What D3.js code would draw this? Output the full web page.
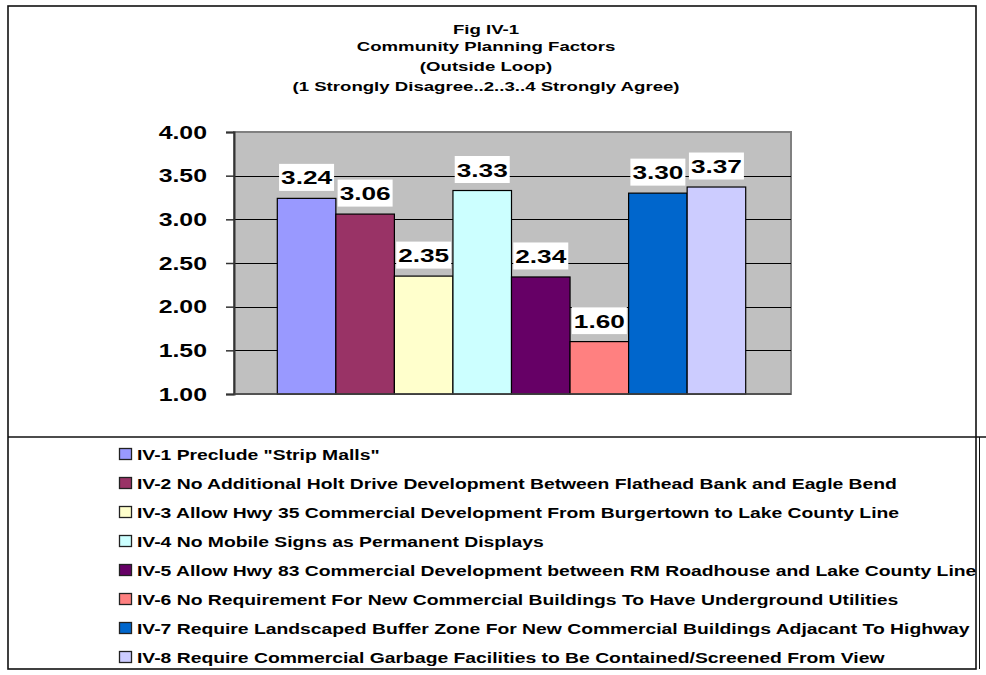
<!DOCTYPE html>
<html>
<head>
<meta charset="utf-8">
<script src="https://cdn.jsdelivr.net/npm/d3@7"></script>
<style>
  html, body { margin: 0; padding: 0; background: #fff; }
  svg { display: block; }
  text { font-family: "Liberation Sans", Arial, sans-serif; font-weight: bold; fill: #000; }
</style>
</head>
<body>
<svg id="chart" width="986" height="675"></svg>
<script>
// ---- data ----
const titleLines = ["Fig IV-1", "Community Planning Factors", "(Outside Loop)", "(1 Strongly Disagree..2..3..4 Strongly Agree)"];
const categories = [
  "IV-1 Preclude \"Strip Malls\"",
  "IV-2 No Additional Holt Drive Development Between Flathead Bank and Eagle Bend",
  "IV-3 Allow Hwy 35 Commercial Development From Burgertown to Lake County Line",
  "IV-4 No Mobile Signs as Permanent Displays",
  "IV-5 Allow Hwy 83 Commercial Development between RM Roadhouse and Lake County Line",
  "IV-6 No Requirement For New Commercial Buildings To Have Underground Utilities",
  "IV-7 Require Landscaped Buffer Zone For New Commercial Buildings Adjacant To Highway",
  "IV-8 Require Commercial Garbage Facilities to Be Contained/Screened From View"
];
const values = [3.24, 3.06, 2.35, 3.33, 2.34, 1.60, 3.30, 3.37];
const yTicks = [1.0, 1.5, 2.0, 2.5, 3.0, 3.5, 4.0];
const colors = ["#9999FF", "#993366", "#FFFFCC", "#CCFFFF", "#660066", "#FF8080", "#0066CC", "#CCCCFF"];

// ---- layout ----
const SX = 1.38; // horizontal stretch of the reference's text
const plot = { left: 234, right: 791, top: 132, bottom: 394 };
const svg = d3.select("#chart");

function stretchedText(parent, x, y, str, size, anchor) {
  const g = parent.append("g").attr("transform", `translate(${x},${y}) scale(${SX},1)`);
  const t = g.append("text").attr("x", 0).attr("y", 0)
    .attr("font-size", size).attr("text-anchor", anchor || "start").text(str);
  return { g, t };
}

// frames
svg.append("rect").attr("x", 8).attr("y", 6).attr("width", 968).attr("height", 663)
  .attr("fill", "none").attr("stroke", "#111").attr("stroke-width", 1.6);
svg.append("line").attr("x1", 8).attr("x2", 986).attr("y1", 437).attr("y2", 437)
  .attr("stroke", "#111").attr("stroke-width", 1.4);
svg.append("line").attr("x1", 979.5).attr("x2", 979.5).attr("y1", 437).attr("y2", 669)
  .attr("stroke", "#111").attr("stroke-width", 1);

// title
const titleY = [34, 51, 71, 91];
titleLines.forEach((s, i) => stretchedText(svg, 486, titleY[i], s, 13.5, "middle"));

// scales
const x = d3.scaleBand().domain(categories).range([plot.left + 43.3, plot.right - 45.3]).padding(0);
const y = d3.scaleLinear().domain([1, 4]).range([plot.bottom, plot.top]);

// plot background
svg.append("rect").attr("x", plot.left).attr("y", plot.top)
  .attr("width", plot.right - plot.left).attr("height", plot.bottom - plot.top)
  .attr("fill", "#C0C0C0").attr("stroke", "#808080").attr("stroke-width", 2);

// gridlines
svg.append("g").selectAll("line").data(yTicks.filter(d => d > 1 && d < 4)).join("line")
  .attr("x1", plot.left).attr("x2", plot.right)
  .attr("y1", d => Math.round(y(d)) + 0.5).attr("y2", d => Math.round(y(d)) + 0.5)
  .attr("stroke", "#000").attr("stroke-width", 1.2);

// y axis
const yAxis = d3.axisLeft(y).tickValues(yTicks).tickSize(8).tickFormat("");
const ya = svg.append("g").attr("transform", `translate(${plot.left},0)`).call(yAxis);
ya.select(".domain").attr("stroke", "#333").attr("stroke-width", 2);
ya.selectAll(".tick line").attr("stroke", "#333").attr("stroke-width", 1.5);
yTicks.forEach(v => stretchedText(svg, 207, y(v) + 6.5, d3.format(".2f")(v), 18, "end"));

// bars
svg.append("g").selectAll("rect").data(values).join("rect")
  .attr("x", (d, i) => x(categories[i]))
  .attr("y", d => y(d))
  .attr("width", x.bandwidth())
  .attr("height", d => y(1) - y(d))
  .attr("fill", (d, i) => colors[i])
  .attr("stroke", "#000").attr("stroke-width", 1.2);

// bottom axis line under bars
svg.append("line").attr("x1", plot.left).attr("x2", plot.right)
  .attr("y1", plot.bottom).attr("y2", plot.bottom)
  .attr("stroke", "#444").attr("stroke-width", 1.5);

// value labels with white boxes
values.forEach((v, i) => {
  const cx = x(categories[i]) + x.bandwidth() / 2;
  const top = y(v);
  const lblG = svg.append("g");
  const bg = lblG.append("rect");
  const { t } = stretchedText(lblG, cx, top - 14, d3.format(".2f")(v), 19, "middle");
  const w = t.node().getComputedTextLength() * SX + 4;
  bg.attr("x", cx - w / 2).attr("y", top - 34.5).attr("width", w).attr("height", 27).attr("fill", "#fff");
});

// legend
const legG = svg.append("g");
categories.forEach((c, i) => {
  const cy = 455 + i * 29;
  legG.append("rect").attr("x", 119.5).attr("y", cy - 6.5).attr("width", 12).attr("height", 11)
    .attr("fill", colors[i]).attr("stroke", "#222").attr("stroke-width", 1.3);
  stretchedText(legG, 137, cy + 5, c, 14, "start");
});
</script>
</body>
</html>
